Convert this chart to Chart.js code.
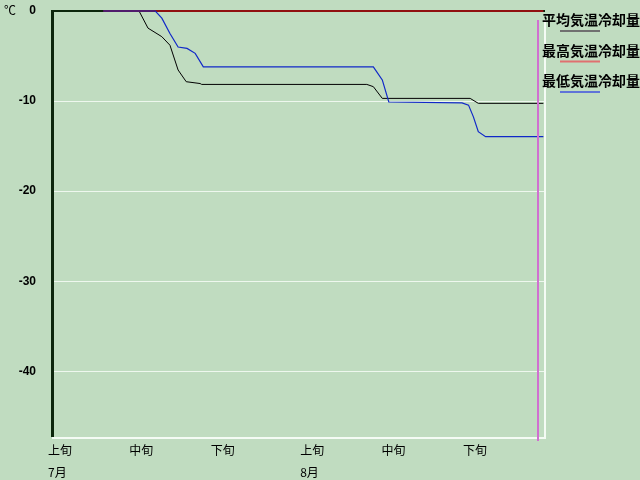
<!DOCTYPE html>
<html>
<head>
<meta charset="utf-8">
<script src="https://cdn.jsdelivr.net/npm/chart.js@4.4.1/dist/chart.umd.min.js"></script>
<style>
    html, body { margin: 0; padding: 0; background: #c0dcc0; }
    canvas { display: block; }
</style>
</head>
<body>
<canvas id="coolingChart" width="640" height="480"></canvas>
<script>
// Days counted from July 1 (0) to the end of August
const avgDays   = [6.3, 10.7, 11.8, 13.5, 14.5, 15.5, 16.5, 18.2, 18.4, 38.7, 39.5, 40.6, 51.4, 52.4, 60.4];
const avgValues = [0, 0, -1.9, -2.85, -3.8, -6.55, -7.85, -8.05, -8.15, -8.15, -8.4, -9.7, -9.7, -10.25, -10.25];

const maxDays   = [6.3, 60.4];
const maxValues = [0, 0];

const minDays   = [6.3, 12.7, 13.5, 14.5, 15.5, 16.6, 17.6, 18.6, 39.5, 40.6, 41.4, 50.4, 51.2, 51.8, 52.4, 53.3, 60.4];
const minValues = [0, 0, -0.8, -2.5, -4.0, -4.15, -4.7, -6.2, -6.2, -7.65, -10.1, -10.2, -10.45, -11.75, -13.4, -13.95, -13.95];

const xTickDays   = [0, 10, 20, 31, 41, 51];
const xTickLabels = ['上旬', '中旬', '下旬', '上旬', '中旬', '下旬'];
const monthLabels = ['7月', '', '', '8月', '', ''];
const yTickValues = [0, -10, -20, -30, -40];

const xMax = 60.6;
const yMin = -47.4;
const markerDay = 59.7;

const seriesNames  = ['平均気温冷却量', '最高気温冷却量', '最低気温冷却量'];
const seriesColors = ['#000000', '#901010', '#1028c8'];
const legendColors = ['#707070', '#e07070', '#5f73d8'];

function toPoints(days, values) {
    return days.map((d, i) => ({ x: d, y: values[i] }));
}

// Keep Chart.js from adding label overflow padding around the plot
function fixSize(scale, w, h) {
    if (w) scale.width = w;
    if (h) scale.height = h;
    scale.paddingTop = 0;
    scale.paddingBottom = 0;
    scale.paddingLeft = 0;
    scale.paddingRight = 0;
}

// Frame, marker line, unit label and legend
const decorPlugin = {
    id: 'decor',
    beforeDatasetsDraw(chart) {
        const { ctx, chartArea: a } = chart;
        ctx.save();
        // white bottom / right edges
        ctx.fillStyle = '#f4fbf4';
        ctx.fillRect(a.left, a.bottom - 1, a.right - a.left + 1, 2);
        ctx.fillRect(a.right - 1, a.top + 9, 2, a.bottom - a.top - 8);
        // dark top / left edges
        ctx.fillStyle = '#0c260c';
        ctx.fillRect(a.left - 1, a.top - 1, a.right - a.left + 1, 2);
        ctx.fillRect(a.left - 1, a.top - 1, 3, a.bottom - a.top);
        ctx.restore();
    },
    afterDatasetsDraw(chart) {
        const { ctx, chartArea: a, scales } = chart;
        ctx.save();
        const mx = Math.round(scales.x.getPixelForValue(markerDay));
        ctx.fillStyle = '#d070d0';
        ctx.fillRect(mx - 1, a.top + 9, 2, a.bottom - a.top - 6);

        ctx.fillStyle = '#000';
        ctx.font = '12px "Noto Sans CJK JP"';
        ctx.textBaseline = 'middle';
        ctx.textAlign = 'left';
        ctx.fillText('℃', 4, 10);

        ctx.font = 'bold 14px "Noto Sans CJK JP"';
        seriesNames.forEach((name, i) => {
            const ty = 20 + i * 30.5;
            ctx.fillStyle = '#000';
            ctx.fillText(name, 542, ty);
            ctx.fillStyle = legendColors[i];
            ctx.fillRect(560, ty + 10, 40, 2);
        });
        ctx.restore();
    }
};

const chart = new Chart(document.getElementById('coolingChart'), {
    type: 'line',
    data: {
        datasets: [
            {
                label: seriesNames[0],
                data: toPoints(avgDays, avgValues),
                borderColor: seriesColors[0],
                borderWidth: 1,
                order: 3
            },
            {
                label: seriesNames[1],
                data: toPoints(maxDays, maxValues),
                borderColor: seriesColors[1],
                borderWidth: 2,
                order: 2
            },
            {
                label: seriesNames[2],
                data: toPoints(minDays, minValues),
                borderColor: seriesColors[2],
                borderWidth: 1.2,
                order: 1
            }
        ]
    },
    options: {
        responsive: false,
        animation: false,
        events: [],
        layout: {
            padding: { top: 11, right: 95, left: 0, bottom: 0 }
        },
        elements: {
            point: { radius: 0 },
            line: { tension: 0, fill: false }
        },
        datasets: {
            line: { clip: false }
        },
        plugins: {
            legend: { display: false },
            tooltip: { enabled: false }
        },
        scales: {
            x: {
                type: 'linear',
                min: 0,
                max: xMax,
                afterBuildTicks: (scale) => {
                    scale.ticks = xTickDays.map(v => ({ value: v }));
                },
                afterFit: (scale) => fixSize(scale, 0, 42),
                grid: { display: false, drawTicks: false },
                border: { display: false },
                ticks: {
                    autoSkip: false,
                    maxRotation: 0,
                    align: 'start',
                    labelOffset: -4,
                    padding: 1,
                    color: '#000',
                    font: { family: '"Noto Sans CJK JP"', size: 12, lineHeight: '22px' },
                    callback: (value, index) => [xTickLabels[index], monthLabels[index]]
                }
            },
            y: {
                min: yMin,
                max: 0,
                afterBuildTicks: (scale) => {
                    scale.ticks = yTickValues.map(v => ({ value: v }));
                },
                afterFit: (scale) => fixSize(scale, 52, 0),
                grid: {
                    drawTicks: false,
                    lineWidth: 1,
                    color: (ctx) => (ctx.tick && ctx.tick.value === 0) ? 'rgba(0,0,0,0)' : '#eef7ee'
                },
                border: { display: false },
                ticks: {
                    padding: 16,
                    color: '#000',
                    font: { family: '"Liberation Sans"', size: 12, weight: 'bold' },
                    callback: (value) => String(value)
                }
            }
        }
    },
    plugins: [decorPlugin]
});
</script>
</body>
</html>
